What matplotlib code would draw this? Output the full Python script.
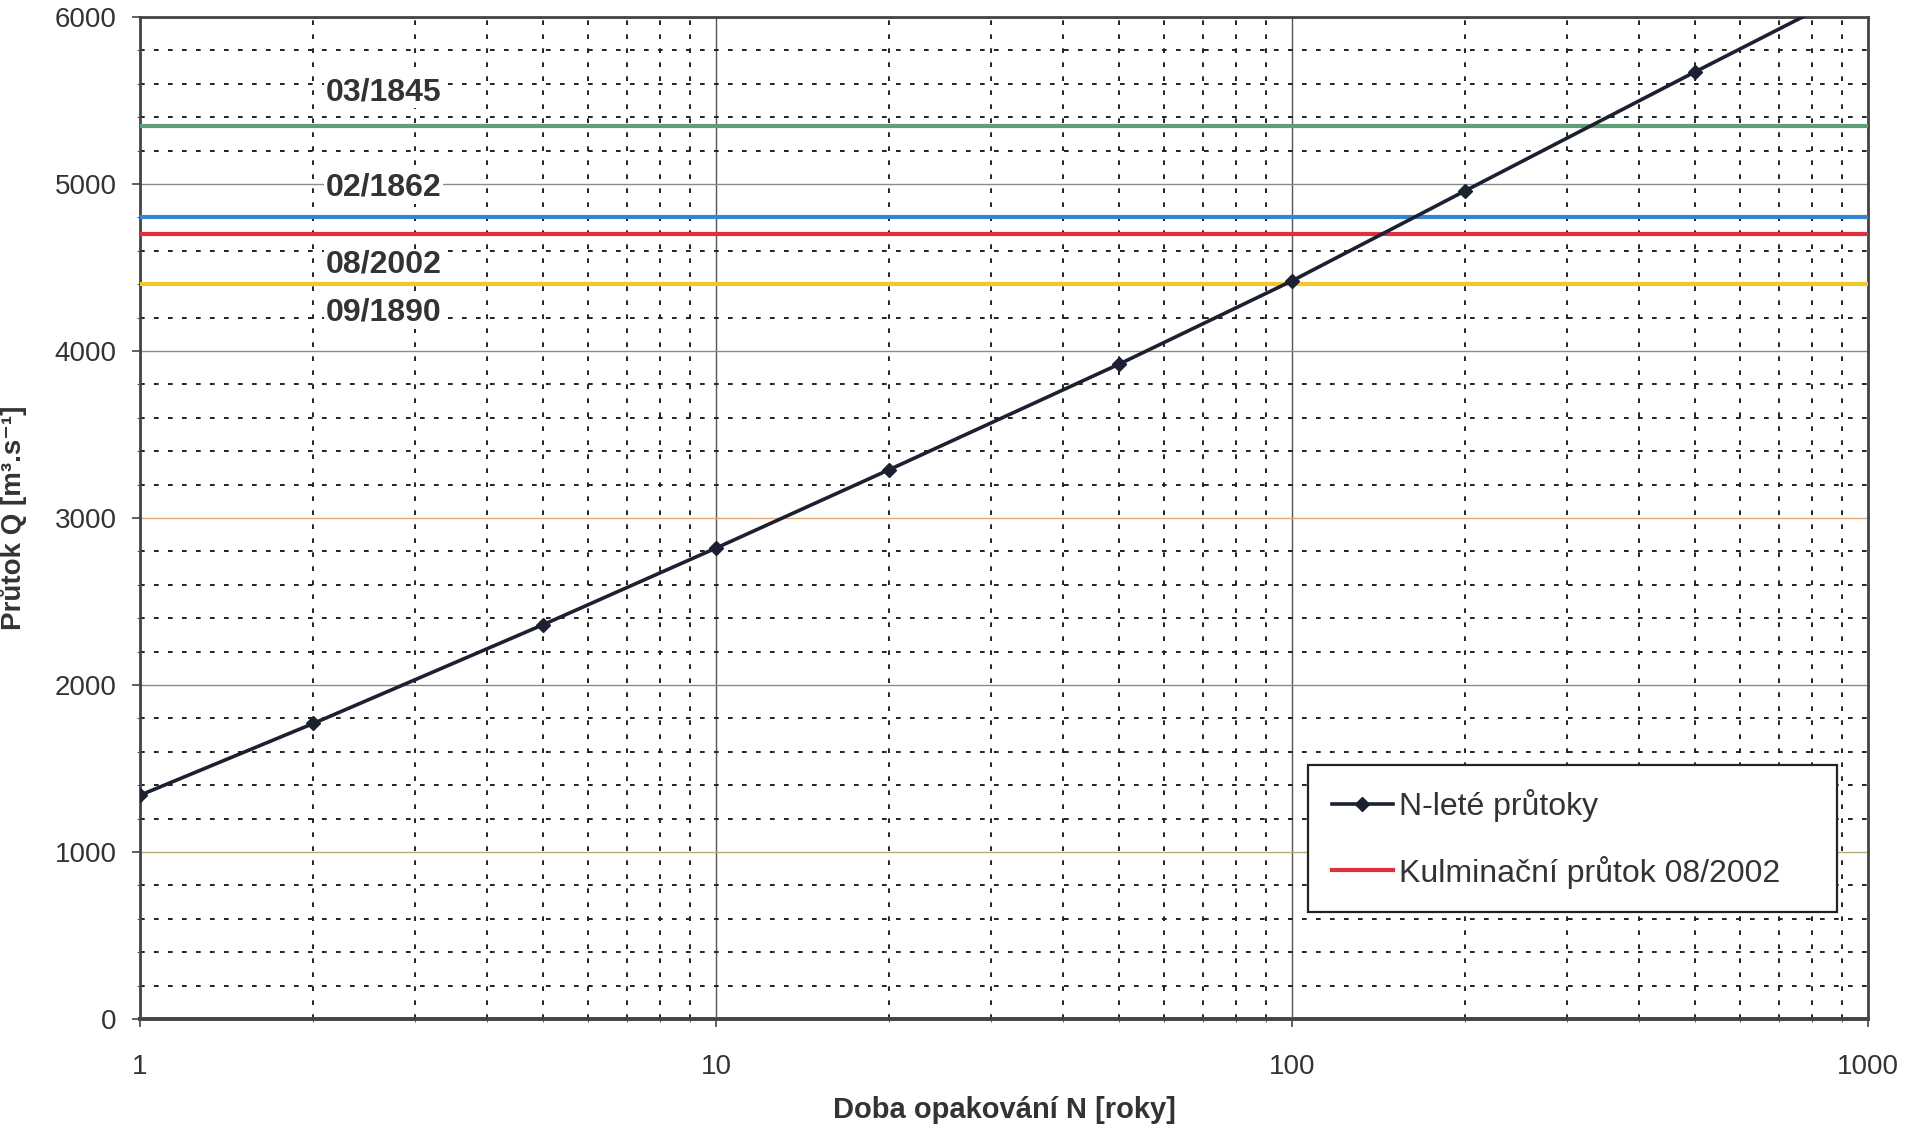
import matplotlib
matplotlib.use("Agg")
import matplotlib.pyplot as plt
from matplotlib.ticker import MultipleLocator, LogLocator, FixedLocator, FixedFormatter, NullFormatter

plt.rcParams['font.family'] = ['Liberation Sans', 'DejaVu Sans']

# N-leté průtoky (doba opakování N v letech, průtok Q v m3/s)
doba_N = [1, 2, 5, 10, 20, 50, 100, 200, 500, 1000]
prutok_Q = [1340, 1770, 2360, 2820, 3290, 3920, 4420, 4960, 5670, 6200]

# historické kulminační průtoky
povodne = ['03/1845', '02/1862', '08/2002', '09/1890']
povodne_Q = [5350, 4800, 4700, 4400]
povodne_barvy = ['#5f9f78', '#3584d4', '#e0303c', '#f2c62c']

x_ticks = [1, 10, 100, 1000]
x_labels = ['1', '10', '100', '1000']
y_ticks = [0, 1000, 2000, 3000, 4000, 5000, 6000]

# posun popisků od čáry povodně (v m3/s)
popisky_posun = [200, 180, -185, -170]

fig = plt.figure(figsize=(19.05, 11.32), dpi=100)
ax = fig.add_axes([0.0735, 0.0998, 0.9071, 0.8852])

ax.set_xscale('log')
ax.set_xlim(1, 1000)
ax.set_ylim(0, 6000)

# mřížka
ax.xaxis.set_major_locator(FixedLocator(x_ticks))
ax.xaxis.set_major_formatter(FixedFormatter(x_labels))
ax.xaxis.set_minor_locator(LogLocator(base=10, subs=range(2, 10)))
ax.xaxis.set_minor_formatter(NullFormatter())
ax.yaxis.set_major_locator(FixedLocator(y_ticks))
ax.yaxis.set_minor_locator(MultipleLocator(200))

ax.set_axisbelow(True)
ax.grid(which='major', axis='both', color='#8a8a8a', lw=1.0)
ax.grid(which='minor', axis='both', color='#222222', lw=1.4, dashes=(2.4, 4.8))
ygl = ax.get_ygridlines()
ygl[1].set_color('#b8aa78')
ygl[3].set_color('#e0a878')
for g in ax.get_xgridlines():
    g.set_color('#555555')

for i, (nazev, q, barva) in enumerate(zip(povodne, povodne_Q, povodne_barvy)):
    lab = 'Kulminační průtok 08/2002' if nazev == '08/2002' else None
    ax.axhline(q, color=barva, lw=3.0, label=lab, zorder=3)
    ax.text(2.1, q + popisky_posun[i], nazev, fontsize=23, fontweight='bold',
            color='#333333', va='center', ha='left', zorder=4,
            bbox=dict(facecolor='white', edgecolor='none', pad=1))

ax.plot(doba_N, prutok_Q, color='#1b2130', lw=2.6, marker='D', ms=7,
        mfc='#1b2130', mec='#1b2130', label='N-leté průtoky', zorder=5)

for s in ax.spines.values():
    s.set_color('#444444')
    s.set_linewidth(2.0)
ax.spines['bottom'].set_linewidth(2.8)

ax.tick_params(which='major', axis='y', length=6, width=1.2, pad=11,
               labelsize=20, labelcolor='#333333', color='#444444')
ax.tick_params(which='major', axis='x', length=6, width=1.2, pad=19,
               labelsize=20, labelcolor='#333333', color='#444444')
ax.tick_params(which='minor', length=2, width=0.8, color='#666666')

ax.set_xlabel('Doba opakování N [roky]', fontsize=21, fontweight='bold',
              color='#333333', labelpad=12)
ax.set_ylabel('Průtok Q [m³.s⁻¹]', fontsize=20, fontweight='bold',
              color='#333333')
ax.yaxis.set_label_coords(-0.0655, 0.5)

h, l = ax.get_legend_handles_labels()
order = [l.index('N-leté průtoky'), l.index('Kulminační průtok 08/2002')]
leg = ax.legend([h[k] for k in order], [l[k] for k in order],
                loc='upper left', bbox_to_anchor=(0.676, 0.114, 0.306, 0.1395),
                mode='expand', borderaxespad=0, fontsize=23, frameon=True,
                fancybox=False, framealpha=1, edgecolor='#222222',
                borderpad=0.75, labelspacing=1.05, handlelength=1.9,
                handletextpad=0.2)
leg.get_frame().set_linewidth(1.6)
for t in leg.get_texts():
    t.set_color('#333333')

fig.savefig('out.png', dpi=100, facecolor='white')
